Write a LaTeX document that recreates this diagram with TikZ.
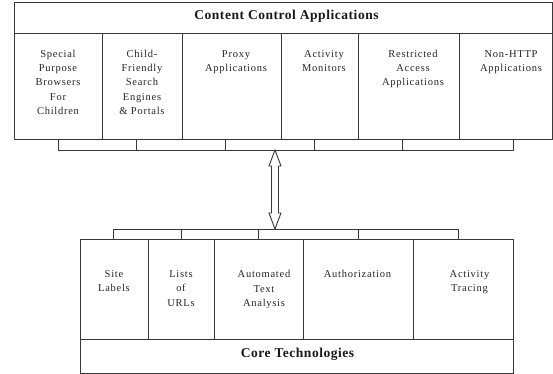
\documentclass[tikz,border=0pt]{standalone}
\usepackage{fontspec}
\setmainfont{Liberation Serif}
\usetikzlibrary{calc}
\begin{document}
\begin{tikzpicture}[x=1pt,y=-1pt,
  ln/.style={draw=black!78, line width=0.9pt},
  cell/.style={ln, rectangle, inner sep=0pt, anchor=north west},
  lbl/.style={inner sep=0pt, align=center, anchor=north, text=black!85,
    font=\fontsize{10.5}{14.2}\selectfont\addfontfeatures{LetterSpace=7}},
  lblb/.style={lbl, font=\fontsize{10.5}{14.7}\selectfont\addfontfeatures{LetterSpace=7}},
  hdr/.style={inner sep=0pt, anchor=base, text=black!90,
    font=\fontsize{13.5}{16}\selectfont\bfseries\addfontfeatures{LetterSpace=4}}]
\fill[white] (0,0) rectangle (553,374);
\useasboundingbox (0,0) rectangle (553,374);
% top block
\node[cell, minimum width=538pt, minimum height=31pt] (cca) at (14,2) {};
\node[hdr] (ccat) at (286.5,20) {Content Control Applications};
\node[cell, minimum width=88pt, minimum height=106pt] (t1) at (14,33) {};
\node[cell, minimum width=80pt, minimum height=106pt] (t2) at (102,33) {};
\node[cell, minimum width=99pt, minimum height=106pt] (t3) at (182,33) {};
\node[cell, minimum width=77pt, minimum height=106pt] (t4) at (281,33) {};
\node[cell, minimum width=101pt, minimum height=106pt] (t5) at (358,33) {};
\node[cell, minimum width=93pt, minimum height=106pt] (t6) at (459,33) {};
\node[lbl] (t1x) at (58,50) {Special\\Purpose\\Browsers\\For\\Children};
\node[lbl] (t2x) at (142,50) {Child-\\Friendly\\Search\\Engines\\\& Portals};
\node[lbl] (t3x) at (236,50) {Proxy\\Applications};
\node[lbl] (t4x) at (324,50) {Activity\\Monitors};
\node[lbl] (t5x) at (413,50) {Restricted\\Access\\Applications};
\node[lbl] (t6x) at (511,50) {Non-HTTP\\Applications};
% top bar
\node[cell, minimum width=78pt, minimum height=11pt] (b1) at (58,139) {};
\node[cell, minimum width=89pt, minimum height=11pt] (b2) at (136,139) {};
\node[cell, minimum width=89pt, minimum height=11pt] (b3) at (225,139) {};
\node[cell, minimum width=88pt, minimum height=11pt] (b4) at (314,139) {};
\node[cell, minimum width=111pt, minimum height=11pt] (b5) at (402,139) {};
% bottom bracket
\draw[ln] (113,239) -- (113,229) -- (458,229) -- (458,239);
\foreach \xx in {181,258,358} \draw[ln] (\xx,229) -- (\xx,239);
% double arrow
\coordinate (atop) at (275,150);
\coordinate (abot) at (275,229);
\draw[ln, fill=white, line join=miter] (atop) -- ++(6,16) -- ++(-2.5,0) -- ($(abot)+(3.5,-16)$) -- ++(2.5,0) -- (abot)
  -- ++(-6,-16) -- ++(2.5,0) -- ($(atop)+(-3.5,16)$) -- ++(-2.5,0) -- cycle;
% lower block
\node[cell, minimum width=68pt, minimum height=100pt] (l1) at (80,239) {};
\node[cell, minimum width=66pt, minimum height=100pt] (l2) at (148,239) {};
\node[cell, minimum width=89pt, minimum height=100pt] (l3) at (214,239) {};
\node[cell, minimum width=110pt, minimum height=100pt] (l4) at (303,239) {};
\node[cell, minimum width=100pt, minimum height=100pt] (l5) at (413,239) {};
\node[cell, minimum width=433pt, minimum height=34pt] (ct) at (80,339) {};
\node[lblb] (l1x) at (114,270) {Site\\Labels};
\node[lblb] (l2x) at (181,270) {Lists\\of\\URLs};
\node[lblb] (l3x) at (264,270) {Automated\\Text\\Analysis};
\node[lblb] (l4x) at (357.5,270) {Authorization};
\node[lblb] (l5x) at (469.5,270) {Activity\\Tracing};
\node[hdr] (ctt) at (297.5,357) {Core Technologies};
\end{tikzpicture}
\end{document}
